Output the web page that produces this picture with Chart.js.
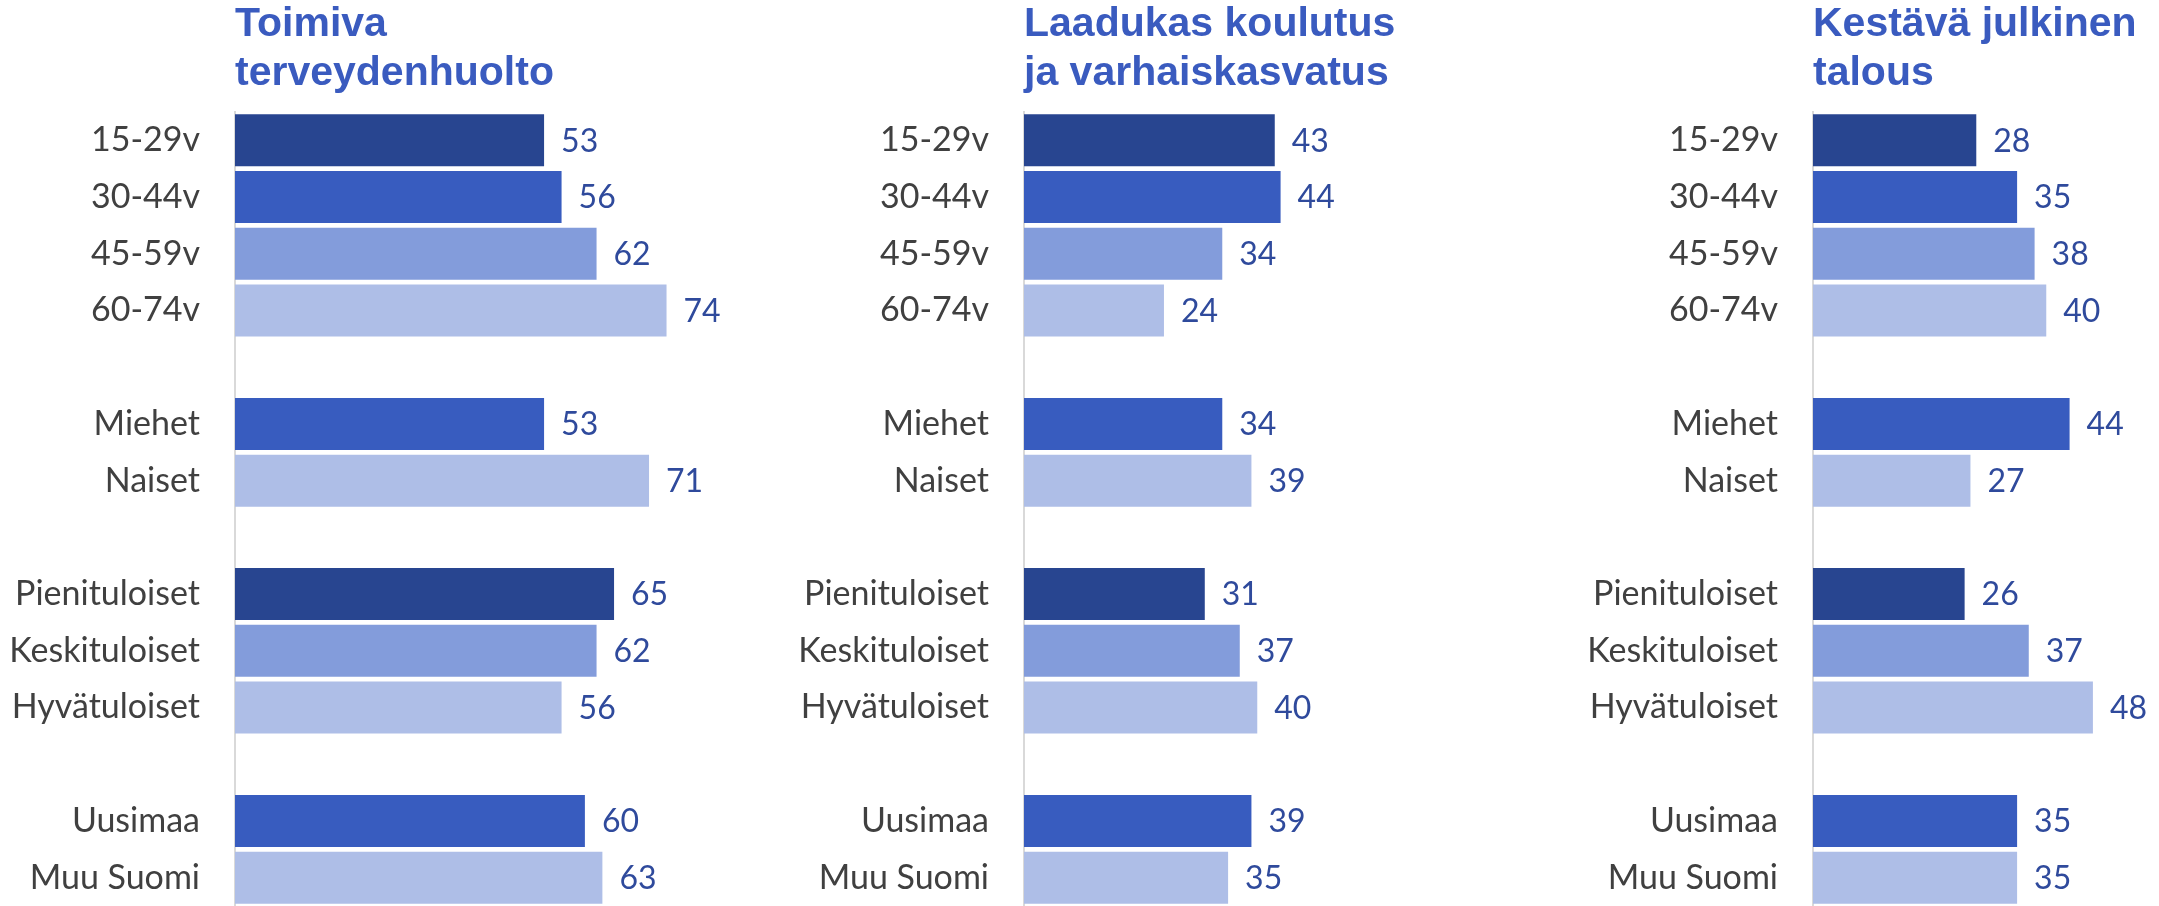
<!DOCTYPE html>
<html>
<head>
<meta charset="utf-8">
<script src="https://cdn.jsdelivr.net/npm/chart.js@4.4.0/dist/chart.umd.min.js"></script>
<style>
html,body{margin:0;padding:0;background:#fff;overflow:hidden;width:2159px;height:906px;}
.panel{position:absolute;top:0;width:789px;height:906px;}
</style>
</head>
<body>
<div class="panel" style="left:0px"><canvas id="c1" width="789" height="906"></canvas></div>
<div class="panel" style="left:789px"><canvas id="c2" width="789" height="906"></canvas></div>
<div class="panel" style="left:1578px"><canvas id="c3" width="789" height="906"></canvas></div>
<script>
// ryhmät (tyhjä rivi = väli)
const categories = ['15-29v','30-44v','45-59v','60-74v','','Miehet','Naiset','','Pienituloiset','Keskituloiset','Hyvätuloiset','','Uusimaa','Muu Suomi'];

const terveydenhuolto = [53,56,62,74,null,53,71,null,65,62,56,null,60,63];
const koulutus = [43,44,34,24,null,34,39,null,31,37,40,null,39,35];
const talous = [28,35,38,40,null,44,27,null,26,37,48,null,35,35];

const titles = [
  ['Toimiva','terveydenhuolto'],
  ['Laadukas koulutus','ja varhaiskasvatus'],
  ['Kestävä julkinen','talous']
];

const dark = '#284590', mid = '#385cbf', lightMid = '#839cdb', light = '#aebee7';
const barColors = [dark,mid,lightMid,light,light,mid,light,light,dark,lightMid,light,light,mid,light];

const valueLabels = {
  id:'valueLabels',
  afterDatasetsDraw(chart){
    const ctx = chart.ctx;
    const meta = chart.getDatasetMeta(0);
    const data = chart.data.datasets[0].data;
    ctx.save();
    ctx.font = '32px Lato';
    ctx.fillStyle = '#2f4a9c';
    ctx.textAlign = 'left';
    ctx.textBaseline = 'middle';
    meta.data.forEach((bar,i)=>{
      if(data[i] == null) return;
      ctx.fillText(String(data[i]), bar.x + 17, bar.y + 1);
    });
    ctx.restore();
  }
};

function piirra(id, values, title){
  return new Chart(document.getElementById(id), {
    type:'bar',
    data:{
      labels:categories,
      datasets:[{
        data:values,
        backgroundColor:barColors,
        borderWidth:0,
        barPercentage:0.917,
        categoryPercentage:1
      }]
    },
    options:{
      indexAxis:'y',
      responsive:false,
      animation:false,
      devicePixelRatio:1,
      layout:{padding:{left:0,right:0,top:0,bottom:0}},
      plugins:{
        legend:{display:false},
        tooltip:{enabled:false},
        title:{
          display:true,
          text:title,
          align:'start',
          fullSize:false,
          color:'#3a5bbf',
          font:{family:'"Liberation Sans", Arial, sans-serif', size:41, weight:'bold', lineHeight:1.195},
          padding:{top:0,bottom:14}
        }
      },
      scales:{
        x:{display:false, min:0, max:95},
        y:{
          afterFit(scale){
            scale.width = 235;
            scale.paddingTop = 0;
            scale.paddingBottom = 0;
          },
          grid:{display:false, drawTicks:false},
          border:{display:true, color:'#d9d9d9', width:2},
          ticks:{
            color:'#404040',
            padding:35,
            autoSkip:false,
            font:{family:'Lato', size:34}
          }
        }
      }
    },
    plugins:[valueLabels]
  });
}

piirra('c1', terveydenhuolto, titles[0]);
piirra('c2', koulutus, titles[1]);
piirra('c3', talous, titles[2]);
</script>
</body>
</html>
